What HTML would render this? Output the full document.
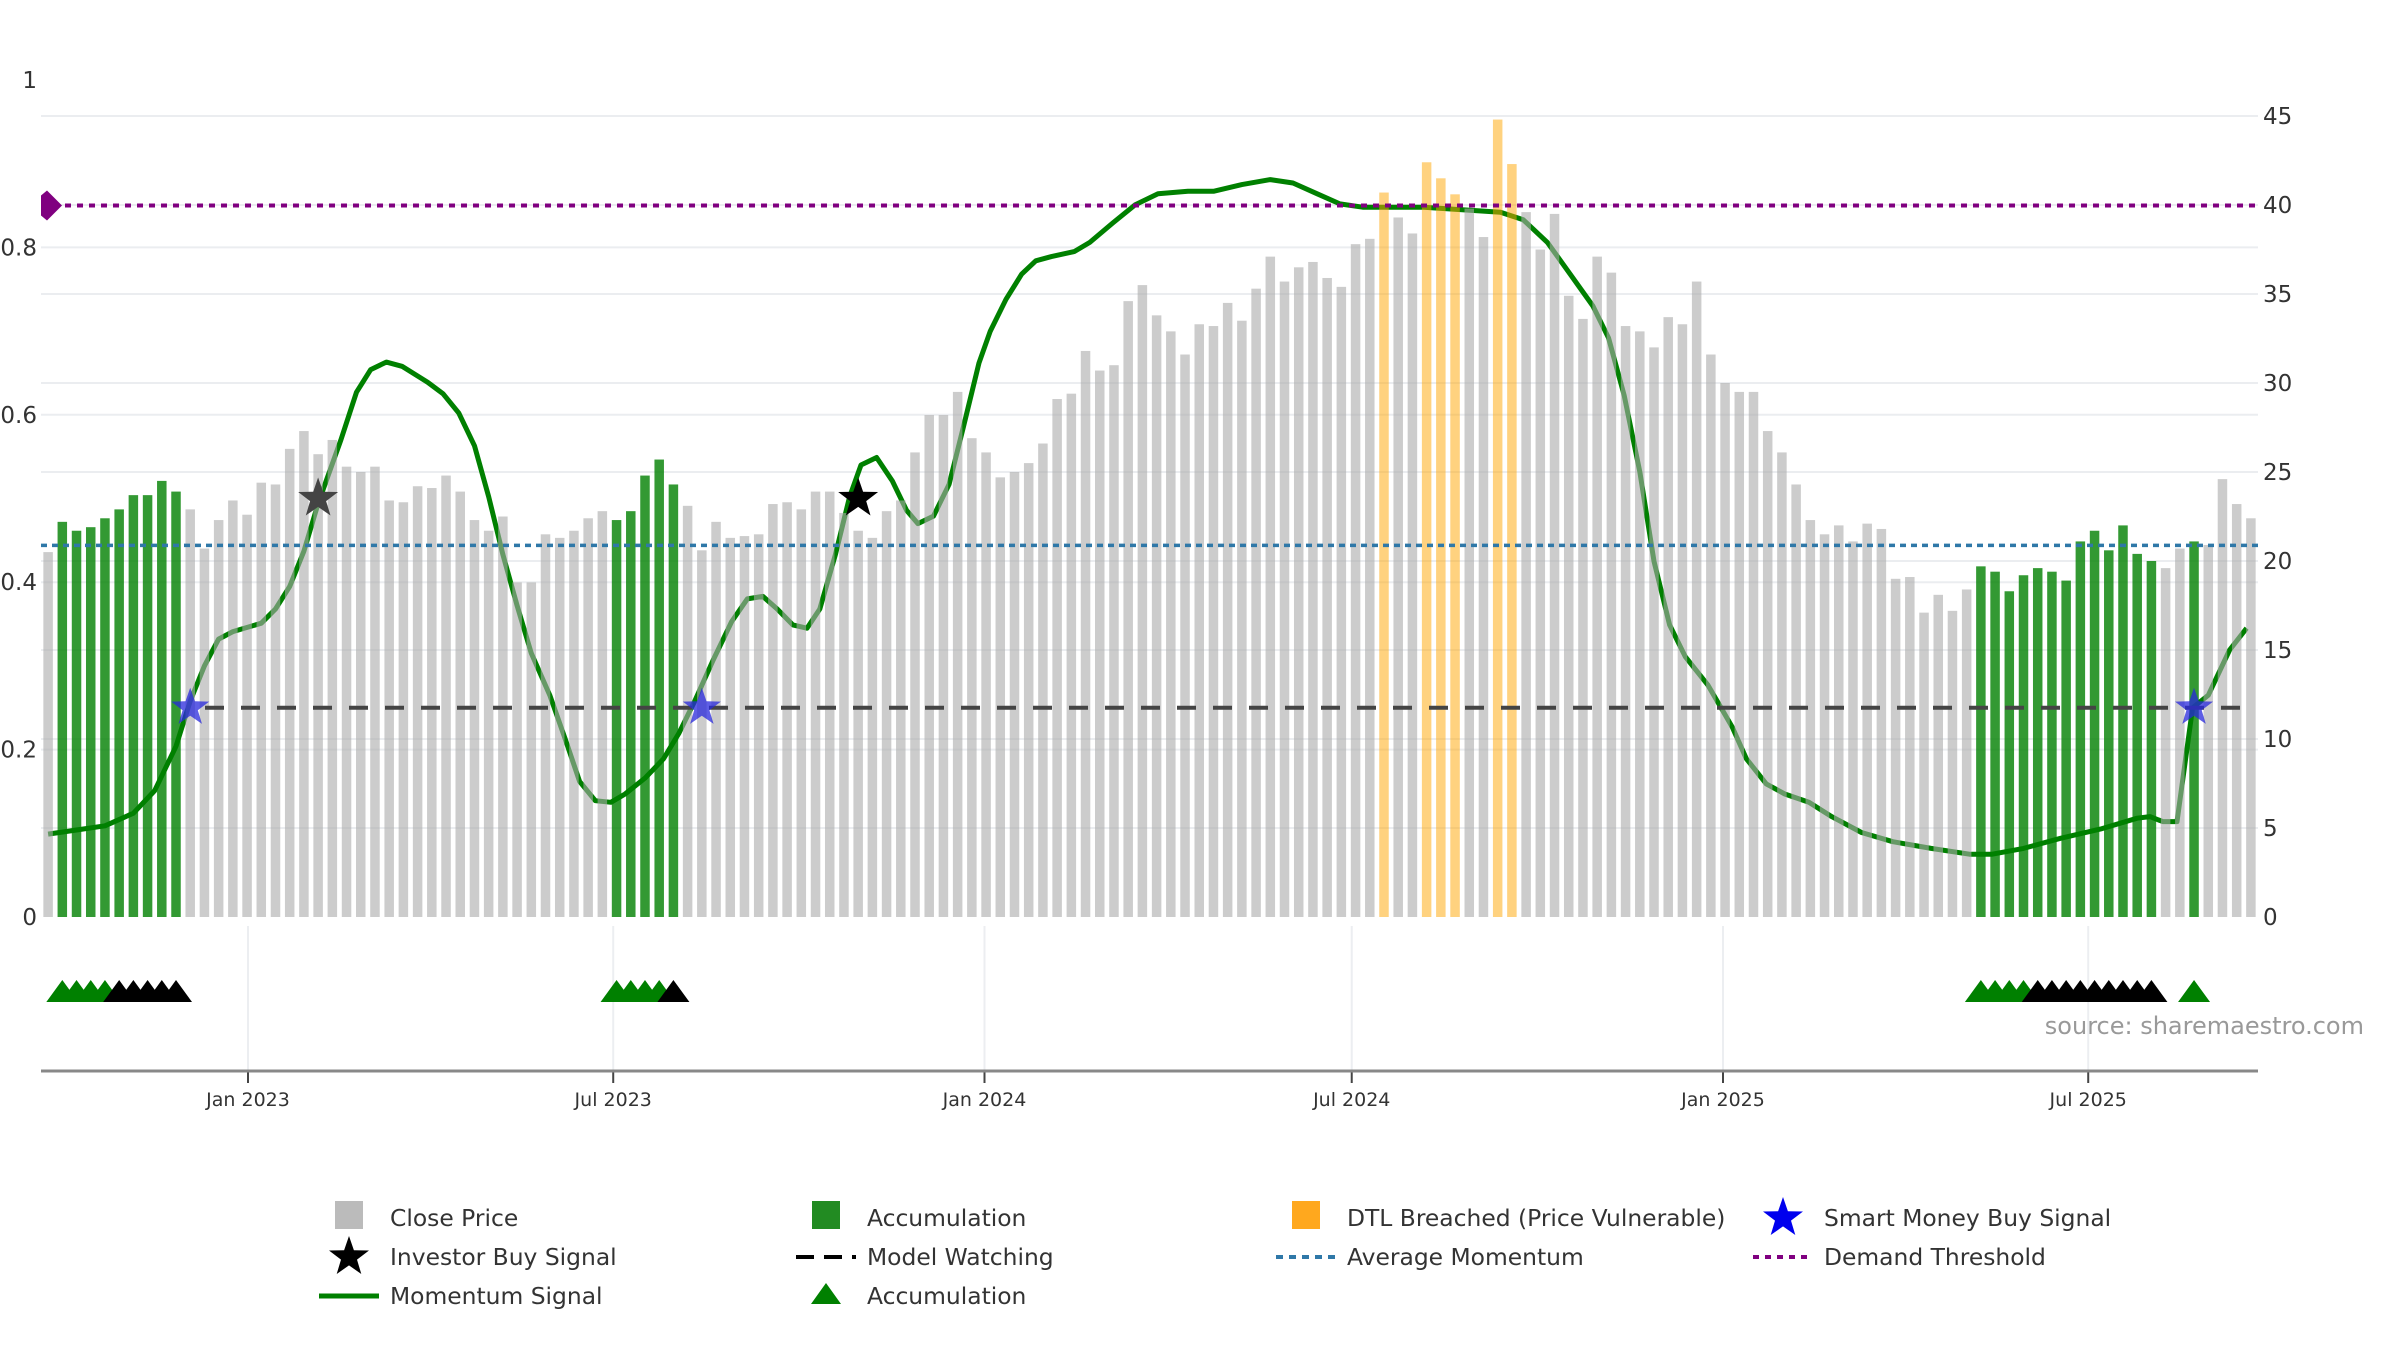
<!DOCTYPE html>
<html><head><meta charset="utf-8"><title>Momentum chart</title>
<style>
html,body{margin:0;padding:0;background:#fff;}
svg{display:block;font-family:"DejaVu Sans","Liberation Sans",sans-serif;}
</style></head>
<body>
<svg id="chart" width="2400" height="1350" viewBox="0 0 2400 1350" xmlns="http://www.w3.org/2000/svg">
<g id="grid"></g>
<g id="lineLayer"></g>
<g id="barLayer"></g>
<g id="refLayer"></g>
<g id="markLayer"></g>
<g id="axisLayer"></g>
<text x="2364" y="1034" text-anchor="end" font-size="24" fill="#999">source: sharemaestro.com</text>
<g id="legend"></g>
</svg>
<script>
// ---- data ----
const closePrice = [20.5,22.2,21.7,21.9,22.4,22.9,23.7,23.7,24.5,23.9,
22.9,20.7,22.3,23.4,22.6,24.4,24.3,26.3,27.3,26.0,
26.8,25.3,25.0,25.3,23.4,23.3,24.2,24.1,24.8,23.9,
22.3,21.7,22.5,18.8,18.8,21.5,21.3,21.7,22.4,22.8,
22.3,22.8,24.8,25.7,24.3,23.1,20.6,22.2,21.3,21.4,
21.5,23.2,23.3,22.9,23.9,23.9,22.7,21.7,21.3,22.8,
23.4,26.1,28.2,28.2,29.5,26.9,26.1,24.7,25.0,25.5,
26.6,29.1,29.4,31.8,30.7,31.0,34.6,35.5,33.8,32.9,
31.6,33.3,33.2,34.5,33.5,35.3,37.1,35.7,36.5,36.8,
35.9,35.4,37.8,38.1,40.7,39.3,38.4,42.4,41.5,40.6,
39.8,38.2,44.8,42.3,39.6,37.5,39.5,34.9,33.6,37.1,
36.2,33.2,32.9,32.0,33.7,33.3,35.7,31.6,30.0,29.5,
29.5,27.3,26.1,24.3,22.3,21.5,22.0,21.1,22.1,21.8,
19.0,19.1,17.1,18.1,17.2,18.4,19.7,19.4,18.3,19.2,
19.6,19.4,18.9,21.1,21.7,20.6,22.0,20.4,20.0,19.6,
20.7,21.1,20.9,24.6,23.2,22.4];
const accumulationIdx = [1,2,3,4,5,6,7,8,9,40,41,42,43,44,136,137,138,139,140,141,142,143,144,145,146,147,148,151];
const dtlIdx = [94,97,98,99,102,103];
const momIdx = [0,2,4,6,7.5,9,10,11,12,13,15,16,17,18,19,20.6,21.7,22.7,23.8,24.9,26.7,27.8,28.9,30,31,32,33,34,35.3,36.4,37.4,38.5,39.6,40.6,42,43.3,44.4,45.5,46.8,48.1,49.2,50.3,51.3,52.4,53.4,54.3,55.4,56.4,57.2,58.3,59.4,60.4,61.2,62.3,63.4,64.4,65.5,66.3,67.4,68.5,69.5,70.6,72.2,73.3,74.9,76.5,78.1,80.2,82,84,86,87.6,89.3,90.9,92.5,96.8,99.5,102.2,103.8,105.5,107.1,108.7,109.8,110.9,112,113,114.1,115.2,116.8,118.5,119.5,120.9,122.2,123.9,125.5,127.6,129.8,132.5,135.2,136.8,139,141.6,144.4,147,147.9,148.8,149.8,150.9,152,153.5,154.7];
const momVal = [0.099,0.104,0.109,0.124,0.151,0.204,0.258,0.300,0.332,0.341,0.351,0.368,0.395,0.437,0.494,0.570,0.627,0.654,0.663,0.658,0.639,0.625,0.602,0.563,0.502,0.433,0.372,0.315,0.265,0.212,0.162,0.139,0.137,0.147,0.166,0.189,0.220,0.258,0.307,0.353,0.380,0.383,0.368,0.349,0.345,0.368,0.433,0.502,0.540,0.549,0.521,0.486,0.470,0.479,0.517,0.585,0.662,0.700,0.738,0.768,0.784,0.789,0.795,0.806,0.829,0.851,0.864,0.867,0.867,0.875,0.881,0.877,0.864,0.852,0.848,0.848,0.845,0.842,0.833,0.806,0.768,0.730,0.692,0.623,0.532,0.425,0.349,0.311,0.277,0.227,0.189,0.159,0.147,0.137,0.120,0.101,0.090,0.082,0.075,0.075,0.082,0.094,0.105,0.118,0.120,0.114,0.114,0.250,0.265,0.319,0.345];
const smartIdx = [10,46,151];
const investorIdx = [19,57];
const triGreenIdx = [1,2,3,4,40,41,42,43,136,137,138,139,151];
const triBlackIdx = [5,6,7,8,9,44,140,141,142,143,144,145,146,147,148];
const demandThreshold = 0.85;
const averageMomentum = 0.444;
const modelWatching = 0.25;
const leftTicks = [0,0.2,0.4,0.6,0.8,1];
const leftTickLabels = ["0","0.2","0.4","0.6","0.8","1"];
const rightTicks = [0,5,10,15,20,25,30,35,40,45];
const dateTicks = ["2023-01-01","2023-07-01","2024-01-01","2024-07-01","2025-01-01","2025-07-01"];
const dateTickLabels = ["Jan 2023","Jul 2023","Jan 2024","Jul 2024","Jan 2025","Jul 2025"];

// ---- scales ----
const X0=41, X1=2258, N=closePrice.length, STEP=(X1-X0)/N;
const xi = i => X0 + (i+0.5)*STEP;
const yL = v => 917 - v*837;
const yR = v => 917 - v*(801/45);
const D0 = Date.parse("2023-01-01"), PXD = (1723-248)/731;
const xd = s => 248 + (Date.parse(s)-D0)/86400000*PXD;
const NS="http://www.w3.org/2000/svg";
function mk(tag, attrs, parent){const e=document.createElementNS(NS,tag);for(const k in attrs)e.setAttribute(k,attrs[k]);parent.appendChild(e);return e;}
const grid=document.getElementById('grid'), lineL=document.getElementById('lineLayer'), barL=document.getElementById('barLayer'), refL=document.getElementById('refLayer'), markL=document.getElementById('markLayer'), axL=document.getElementById('axisLayer'), leg=document.getElementById('legend');

// gridlines
leftTicks.forEach((t,k)=>{ if(t>0&&t<1){const g=mk('line',{x1:X0,x2:X1,y1:yL(t),y2:yL(t),stroke:'#ebedf0','stroke-width':2},grid);

}
const tx=mk('text',{x:37,y:yL(t)+8,'text-anchor':'end','font-size':23,fill:'#333'},axL);tx.textContent=leftTickLabels[k];

});
rightTicks.forEach(t=>{ if(t>0){const g=mk('line',{x1:X0,x2:X1,y1:yR(t),y2:yR(t),stroke:'#ebedf0','stroke-width':2},grid);

}
const tx=mk('text',{x:2263,y:yR(t)+8,'font-size':23,fill:'#333'},axL);tx.textContent=String(t);

});
dateTicks.forEach((d,k)=>{const x=xd(d);
const g=mk('line',{x1:x,x2:x,y1:926,y2:1071,stroke:'#eceef1','stroke-width':2},grid);


const t=mk('line',{x1:x,x2:x,y1:1071,y2:1083,stroke:'#444','stroke-width':2},axL);


const tx=mk('text',{x:x,y:1106,'text-anchor':'middle','font-size':19,fill:'#333'},axL);tx.textContent=dateTickLabels[k];

});
const axisLine=mk('line',{x1:X0,x2:X1,y1:1071,y2:1071,stroke:'#888','stroke-width':3},axL);



// momentum line (under bars)
let dstr='';momIdx.forEach((m,k)=>{dstr+=(k?'L':'M')+xi(m).toFixed(1)+','+yL(momVal[k]).toFixed(1);});
const ml=mk('path',{d:dstr,fill:'none',stroke:'#008000','stroke-width':5,'stroke-linejoin':'round'},lineL);



// bars
const BW=9.5;
closePrice.forEach((v,i)=>{let fill='rgba(170,170,170,0.6)',name='close-price-bar';
if(accumulationIdx.includes(i)){fill='rgba(0,128,0,0.8)';name='accumulation-bar';}
else if(dtlIdx.includes(i)){fill='rgba(255,165,0,0.5)';name='dtl-breached-bar';}
const r=mk('rect',{x:xi(i)-BW/2,y:yR(v),width:BW,height:917-yR(v),fill:fill},barL);

});

// reference lines
const dl=mk('line',{x1:X0,x2:X1,y1:yL(demandThreshold),y2:yL(demandThreshold),stroke:'#800080','stroke-width':4,'stroke-dasharray':'6,6'},refL);


const dy=yL(demandThreshold);
const dia=mk('path',{d:`M${X0},${dy-10}L${X0+6},${dy-15}L${X0+21},${dy}L${X0+6},${dy+15}L${X0},${dy+10}Z`,fill:'#800080'},refL);


const al=mk('line',{x1:X0,x2:X1,y1:yL(averageMomentum),y2:yL(averageMomentum),stroke:'#2f78a8','stroke-width':3.5,'stroke-dasharray':'6,5'},refL);


const wl=mk('line',{x1:205,x2:2255,y1:yL(modelWatching),y2:yL(modelWatching),stroke:'#444','stroke-width':4,'stroke-dasharray':'19,17'},refL);



// markers
function starPath(cx,cy,R){const r=R*0.4;let d='';for(let k=0;k<10;k++){const a=-Math.PI/2+k*Math.PI/5;const rr=k%2?r:R;d+=(k?'L':'M')+(cx+rr*Math.cos(a)).toFixed(1)+','+(cy+rr*Math.sin(a)).toFixed(1);}return d+'Z';}
smartIdx.forEach(i=>{const s=mk('path',{d:starPath(xi(i),yL(modelWatching),20),fill:'rgba(40,40,220,0.75)'},markL);

});
investorIdx.forEach((i,k)=>{const s=mk('path',{d:starPath(xi(i),yL(0.5),21),fill:k===0?'#444':'#000'},markL);

});
function tri(i,col){const x=xi(i),y=1002;const t=mk('path',{d:`M${x-16},${y}L${x},${y-22}L${x+16},${y}Z`,fill:col},markL);

}
triGreenIdx.forEach(i=>tri(i,'#008000'));
triBlackIdx.forEach(i=>tri(i,'#000'));

// legend
const rows=[1226,1265,1304], cols=[349,826,1306,1783];
function ltxt(c,r,s){const t=mk('text',{x:cols[c]+41,y:rows[r],'font-size':23.4,fill:'#333'},leg);t.textContent=s;

}
function lsym(el,name){
}
lsym(mk('rect',{x:cols[0]-14,y:rows[0]-25,width:28,height:28,fill:'#bbb'},leg),'legend-close-price-icon');ltxt(0,0,'Close Price');
lsym(mk('path',{d:starPath(cols[0],rows[1]-8,21),fill:'#000'},leg),'legend-investor-icon');ltxt(0,1,'Investor Buy Signal');
lsym(mk('line',{x1:cols[0]-30,x2:cols[0]+30,y1:rows[2]-8,y2:rows[2]-8,stroke:'#008000','stroke-width':5},leg),'legend-momentum-icon');ltxt(0,2,'Momentum Signal');
lsym(mk('rect',{x:cols[1]-14,y:rows[0]-25,width:28,height:28,fill:'#228b22'},leg),'legend-accumulation-icon');ltxt(1,0,'Accumulation');
lsym(mk('line',{x1:cols[1]-30,x2:cols[1]+30,y1:rows[1]-8,y2:rows[1]-8,stroke:'#000','stroke-width':4,'stroke-dasharray':'18,10'},leg),'legend-model-watching-icon');ltxt(1,1,'Model Watching');
lsym(mk('path',{d:`M${cols[1]-15},${rows[2]}L${cols[1]},${rows[2]-21}L${cols[1]+15},${rows[2]}Z`,fill:'#008000'},leg),'legend-accumulation-triangle-icon');ltxt(1,2,'Accumulation');
lsym(mk('rect',{x:cols[2]-14,y:rows[0]-25,width:28,height:28,fill:'#ffa81e'},leg),'legend-dtl-icon');ltxt(2,0,'DTL Breached (Price Vulnerable)');
lsym(mk('line',{x1:cols[2]-30,x2:cols[2]+30,y1:rows[1]-8,y2:rows[1]-8,stroke:'#2f78a8','stroke-width':4,'stroke-dasharray':'7,6'},leg),'legend-average-momentum-icon');ltxt(2,1,'Average Momentum');
lsym(mk('path',{d:starPath(cols[3],rows[0]-8,21),fill:'#0000ee'},leg),'legend-smart-money-icon');ltxt(3,0,'Smart Money Buy Signal');
lsym(mk('line',{x1:cols[3]-30,x2:cols[3]+30,y1:rows[1]-8,y2:rows[1]-8,stroke:'#800080','stroke-width':4,'stroke-dasharray':'6,6'},leg),'legend-demand-threshold-icon');ltxt(3,1,'Demand Threshold');
</script>
</body></html>
